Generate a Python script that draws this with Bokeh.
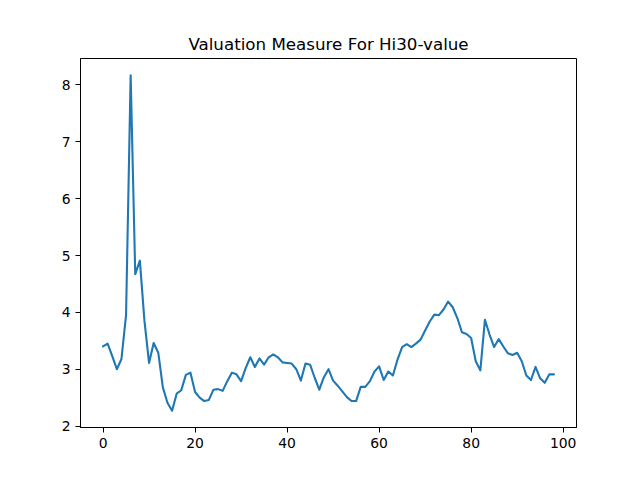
from bokeh.plotting import figure
from bokeh.models import FixedTicker, Range1d
from bokeh.embed import file_html
from bokeh.resources import INLINE

title = "Valuation Measure For Hi30-value"
values = [3.40, 3.45, 3.23, 3.00, 3.18, 3.95, 8.17, 4.67, 4.91, 3.85,
          3.11, 3.46, 3.29, 2.68, 2.41, 2.27, 2.57, 2.63, 2.90, 2.94,
          2.60, 2.50, 2.44, 2.46, 2.64, 2.65, 2.62, 2.79, 2.94, 2.91,
          2.79, 3.02, 3.21, 3.04, 3.19, 3.08, 3.21, 3.26, 3.21, 3.12,
          3.11, 3.10, 3.00, 2.80, 3.10, 3.08, 2.85, 2.64, 2.86, 3.00,
          2.80, 2.71, 2.61, 2.51, 2.44, 2.44, 2.69, 2.69, 2.79, 2.96,
          3.05, 2.81, 2.96, 2.89, 3.17, 3.39, 3.44, 3.39, 3.45, 3.52,
          3.68, 3.84, 3.96, 3.95, 4.05, 4.19, 4.09, 3.90, 3.65, 3.62,
          3.55, 3.14, 2.98, 3.87, 3.61, 3.39, 3.53, 3.40, 3.28, 3.25,
          3.29, 3.14, 2.89, 2.81, 3.04, 2.84, 2.76, 2.91, 2.91]
xs = list(range(len(values)))
x_ticks = [0, 20, 40, 60, 80, 100]
y_ticks = [2, 3, 4, 5, 6, 7, 8]

n = len(values)
xpad = (n - 1) * 0.05
ymin, ymax = min(values), max(values)
ypad = (ymax - ymin) * 0.05

p = figure(output_backend="svg", toolbar_location=None,
           frame_width=496, frame_height=369,
           min_border_left=80, min_border_right=64,
           min_border_top=58, min_border_bottom=53,
           x_range=Range1d(-xpad, n - 1 + xpad),
           y_range=Range1d(ymin - ypad, ymax + ypad),
           title=title)
p.line(xs, values, line_color="#1f77b4", line_width=2.1,
       line_join="round", line_cap="round")

p.title.align = "center"
p.title.text_font = "DejaVu Sans"
p.title.text_font_size = "16.7px"
p.title.text_font_style = "normal"
p.title.text_color = "black"
p.title.standoff = 10

p.xgrid.visible = False
p.ygrid.visible = False
p.outline_line_color = "black"
p.outline_line_width = 1
p.outline_line_alpha = 1
p.background_fill_color = "white"
p.border_fill_color = "white"

p.xaxis.ticker = FixedTicker(ticks=x_ticks)
p.yaxis.ticker = FixedTicker(ticks=y_ticks)
for ax in (p.xaxis[0], p.yaxis[0]):
    ax.major_label_text_font = "DejaVu Sans"
    ax.major_label_text_font_size = "13.9px"
    ax.major_label_text_color = "black"
    ax.major_tick_out = 5
    ax.major_tick_in = 0
    ax.minor_tick_out = 0
    ax.minor_tick_in = 0
    ax.major_tick_line_color = "black"
    ax.axis_line_color = "black"
    ax.major_label_standoff = 5

open("out.html", "w").write(file_html(p, INLINE))
